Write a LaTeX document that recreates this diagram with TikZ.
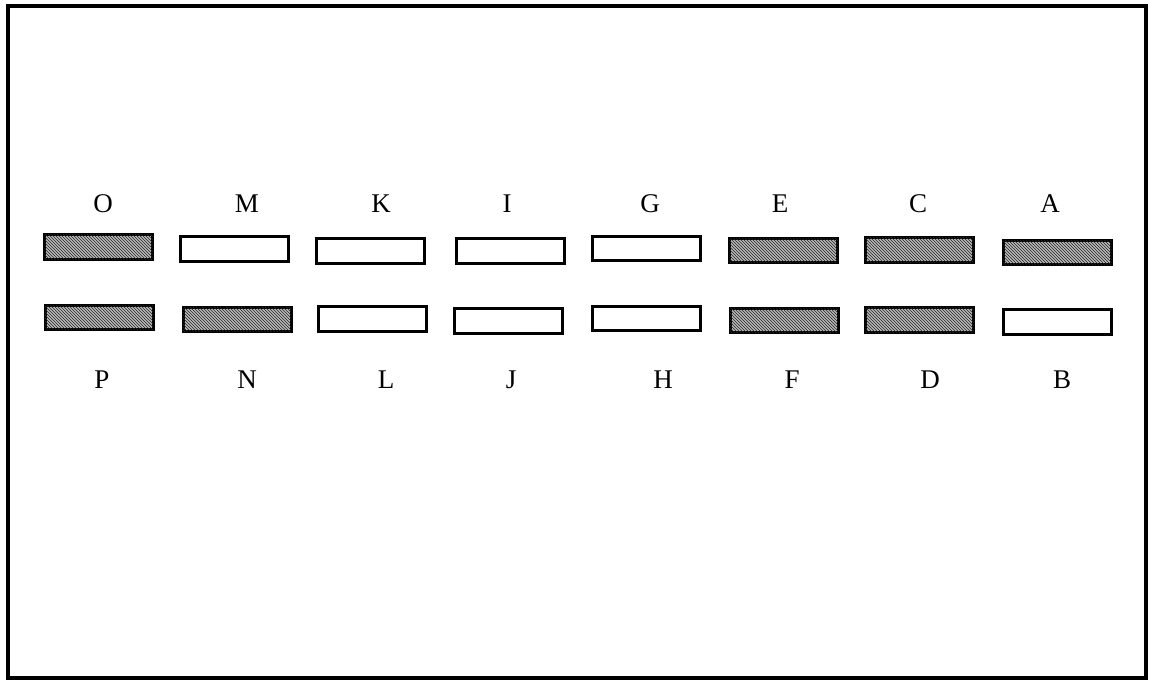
\documentclass[tikz,border=0pt]{standalone}
\usepackage{fontspec}
\setmainfont{Liberation Serif}
\usetikzlibrary{patterns}
\begin{document}
\begin{tikzpicture}[x=1pt,y=-1pt,
  bar/.style={draw=black,line width=3pt,rectangle,minimum width=108pt,minimum height=24.5pt,inner sep=0pt},
  dark/.style={bar,fill=gray!55,postaction={pattern=north west lines,pattern color=black!85}},
  light/.style={bar,fill=white},
  lbl/.style={font=\fontsize{27}{30}\selectfont,anchor=base,inner sep=0pt}]
\useasboundingbox (0,0) rectangle (1150,681);
\node[draw=black,line width=3.2pt,rectangle,minimum width=1138pt,minimum height=672pt,inner sep=0pt] (frame) at (577,342) {};
% top row
\node[dark]  (bO) at (98.5,247) {};
\node[light] (bM) at (234,249) {};
\node[light] (bK) at (370.5,251) {};
\node[light] (bI) at (510.5,251) {};
\node[light] (bG) at (646,248.5) {};
\node[dark]  (bE) at (783.5,250.5) {};
\node[dark]  (bC) at (919.5,250) {};
\node[dark]  (bA) at (1057.5,252.5) {};
% bottom row
\node[dark]  (bP) at (99,317.5) {};
\node[dark]  (bN) at (237,319.5) {};
\node[light] (bL) at (372.5,319) {};
\node[light] (bJ) at (508.5,321) {};
\node[light] (bH) at (646.5,318.5) {};
\node[dark]  (bF) at (784,320.5) {};
\node[dark]  (bD) at (919.5,320) {};
\node[light] (bB) at (1057.5,322) {};
% labels
\node[lbl] (lO) at (103,212) {O};
\node[lbl] (lM) at (247,212) {M};
\node[lbl] (lK) at (381,212) {K};
\node[lbl] (lI) at (507,212) {I};
\node[lbl] (lG) at (650,212) {G};
\node[lbl] (lE) at (780,212) {E};
\node[lbl] (lC) at (918,212) {C};
\node[lbl] (lA) at (1050,212) {A};
\node[lbl] (lP) at (102,388) {P};
\node[lbl] (lN) at (247,388) {N};
\node[lbl] (lL) at (386,388) {L};
\node[lbl] (lJ) at (511,388) {J};
\node[lbl] (lH) at (663,388) {H};
\node[lbl] (lF) at (792,388) {F};
\node[lbl] (lD) at (930,388) {D};
\node[lbl] (lB) at (1062,388) {B};
\end{tikzpicture}
\end{document}
